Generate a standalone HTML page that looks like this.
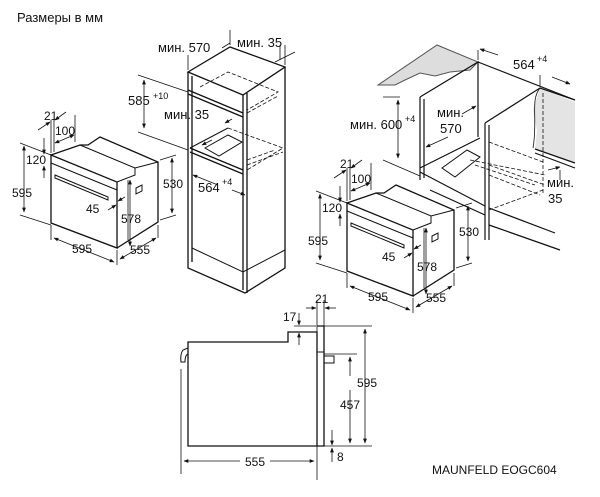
<!DOCTYPE html>
<html><head><meta charset="utf-8"><style>
html,body{margin:0;padding:0;background:#fff;}
svg{display:block;}
text{font-family:"Liberation Sans",sans-serif;fill:#111;}
</style></head><body>
<svg width="600" height="497" viewBox="0 0 600 497" xmlns="http://www.w3.org/2000/svg">
<defs>
<marker id="a" viewBox="0 0 10 10" refX="9" refY="5" markerWidth="6" markerHeight="6" orient="auto-start-reverse"><path d="M0,1 L10,5 L0,9 z" fill="#111"/></marker>
<g id="oven">
  <!-- body -->
  <path d="M51,155 L117,182 L117,248 L51,223 Z" fill="none" stroke="#111" stroke-width="1.3"/>
  <path d="M51,155 L80,145 L88,145 L100,137 L158,162 L158,222 L117,248" fill="none" stroke="#111" stroke-width="1.3"/>
  <path d="M80,145 L135,168 L158,162 M117,182 L135,175 L135,168" fill="none" stroke="#111" stroke-width="1"/>
  <path d="M51,163 L117,190" stroke="#111" stroke-width="1"/>
  <path d="M55,175 L108,197 L108,200 L55,178 Z" fill="none" stroke="#111" stroke-width="1"/>
  <path d="M128,180 L128,240" stroke="#111" stroke-width="0.8"/>
  <path d="M136,188 l6,-3 l0,6 l-6,3 z" fill="none" stroke="#111" stroke-width="1"/>
  <!-- dims -->
  <path d="M20,143 L51,155 M20,215 L51,225" stroke="#111" stroke-width="0.8"/>
  <line x1="24" y1="146" x2="24" y2="212" stroke="#111" stroke-width="0.8" marker-start="url(#a)" marker-end="url(#a)"/>
  <line x1="44" y1="138" x2="44" y2="154" stroke="#111" stroke-width="0.8" marker-end="url(#a)"/>
  <line x1="44" y1="178" x2="44" y2="166" stroke="#111" stroke-width="0.8" marker-end="url(#a)"/>
  <path d="M51,120 L51,153 M54,120 L54,152 M75,115 L75,142" stroke="#111" stroke-width="0.8"/>
  <line x1="38" y1="130" x2="50" y2="122" stroke="#111" stroke-width="0.8" marker-end="url(#a)"/>
  <line x1="66" y1="112" x2="55" y2="120" stroke="#111" stroke-width="0.8" marker-end="url(#a)"/>
  <line x1="55" y1="143" x2="74" y2="135" stroke="#111" stroke-width="0.8" marker-start="url(#a)" marker-end="url(#a)"/>
  <path d="M51,225 L51,240 M117,250 L117,265 M158,225 L158,238" stroke="#111" stroke-width="0.8"/>
  <line x1="54" y1="238" x2="114" y2="262" stroke="#111" stroke-width="0.8" marker-start="url(#a)" marker-end="url(#a)"/>
  <line x1="120" y1="259" x2="156" y2="238" stroke="#111" stroke-width="0.8" marker-start="url(#a)" marker-end="url(#a)"/>
  <path d="M160,160 L176,155 M160,220 L176,215" stroke="#111" stroke-width="0.8"/>
  <line x1="172" y1="158" x2="172" y2="213" stroke="#111" stroke-width="0.8" marker-start="url(#a)" marker-end="url(#a)"/>
  <line x1="130" y1="180" x2="130" y2="246" stroke="#111" stroke-width="0.8" marker-start="url(#a)" marker-end="url(#a)"/>
  <line x1="108" y1="210" x2="116" y2="205" stroke="#111" stroke-width="0.8" marker-end="url(#a)"/>
  <line x1="125" y1="197" x2="118" y2="201" stroke="#111" stroke-width="0.8" marker-end="url(#a)"/>
  <g font-size="12">
  <text x="44" y="120">21</text><text x="55" y="135">100</text><text x="26" y="164">120</text>
  <text x="12" y="197">595</text><text x="86" y="213">45</text><text x="121" y="223">578</text>
  <text x="163" y="188">530</text><text x="72" y="253">595</text><text x="130" y="254">555</text>
  </g>
</g>
</defs>

<text x="17" y="22" font-size="13">Размеры в мм</text>

<use href="#oven"/>
<use href="#oven" transform="translate(296,48)"/>

<!-- tall cabinet -->
<g fill="none" stroke="#111" stroke-width="1.3">
  <path d="M188,72 L230,47 L285,67 L243,95 Z"/>
  <path d="M188,72 L188,268 L245,293 L285,268 L285,67"/>
  <path d="M243,95 L243,290 M247,93 L247,293 M192,76 L192,262"/>
  <path d="M188,90 L243,113 M188,94 L243,117"/>
  <path d="M190,148 L243,170 M190,152 L243,174"/>
  <path d="M190,148 L228,128" stroke-width="1"/>
  <path d="M205,148 L228,135 L242,142 L219,156 Z" stroke-width="1"/>
  <path d="M192,248 L243,272 L285,250" stroke-width="1"/>
</g>
<g fill="none" stroke="#111" stroke-width="0.8" stroke-dasharray="4,2">
  <path d="M200,87 L228,72 L278,92 L247,110 M247,113 L278,96"/>
  <path d="M228,128 L283,148 L247,170 M247,165 L283,152 M247,160 L275,150"/>
</g>
<g stroke="#111" stroke-width="0.8" fill="none">
  <path d="M188,70 L188,55 M230,45 L230,30 M285,65 L285,45 M280,60 L280,45 M138,75 L188,92 M138,132 L188,150"/>
  <line x1="144" y1="80" x2="144" y2="128" marker-start="url(#a)" marker-end="url(#a)"/>
  <line x1="222" y1="48" x2="230" y2="43"/>
  <line x1="275" y1="62" x2="295" y2="52"/>
  <line x1="212" y1="140" x2="202" y2="145" marker-end="url(#a)"/>
  <line x1="225" y1="123" x2="232" y2="119" marker-start="url(#a)"/>
  <line x1="193" y1="175" x2="218" y2="185" marker-start="url(#a)"/>
  <line x1="232" y1="190" x2="245" y2="195" marker-end="url(#a)"/>
</g>
<g font-size="13">
  <text x="158" y="52">мин. 570</text><text x="237" y="47">мин. 35</text>
  <text x="128" y="105">585</text><text x="153" y="99" font-size="9">+10</text>
  <text x="164" y="119">мин. 35</text>
  <text x="198" y="192">564</text><text x="222" y="185" font-size="9">+4</text>
</g>

<!-- right built-in scene -->
<path d="M378,85 L437,45 L478,62 L470,70 L450,72 L435,76 L420,73 L405,80 L395,85 Z" fill="#ddd" stroke="#555" stroke-width="1"/>
<path d="M540,88 L575,102 L575,163 L535,149 L537,130 L533,110 Z" fill="#e4e4e4"/>
<g fill="none" stroke="#111" stroke-width="1.2">
  <path d="M420,97 L478,62 L478,137 M420,97 L420,180 M424,99 L424,178"/>
  <path d="M420,168 L480,138 M420,172 L485,206"/>
  <path d="M442,168 L467,150 L480,157 L455,177 Z" stroke-width="1"/>
  <path d="M485,123 L540,88 L575,100 M485,123 L485,240 M489,125 L489,240"/>
  <path d="M478,62 L575,100"/>
  <path d="M535,149 L575,163 M535,153 L575,168"/>
  <path d="M540,88 C530,100 538,120 533,148" stroke-width="0.8"/>
  <path d="M489,208 L555,233 M489,225 L560,250 M430,190 L485,215"/>
</g>
<g fill="none" stroke="#111" stroke-width="0.8" stroke-dasharray="4,2">
  <path d="M543,93 L543,195 M489,142 L543,162 M489,165 L545,185 M489,175 L540,195 M489,210 L543,190 M470,160 L545,175 M475,165 L535,185"/>
</g>
<g stroke="#111" stroke-width="0.8" fill="none">
  <path d="M383,97 L400,97 M383,160 L420,176 M478,50 L478,60 M540,75 L540,86 M560,170 L560,180"/>
  <line x1="398" y1="100" x2="398" y2="158" marker-start="url(#a)" marker-end="url(#a)"/>
  <line x1="498" y1="55" x2="480" y2="49" marker-end="url(#a)"/>
  <line x1="552" y1="77" x2="570" y2="84" marker-end="url(#a)"/>
  <line x1="448" y1="137" x2="426" y2="147" marker-end="url(#a)"/>
  <line x1="462" y1="114" x2="476" y2="106" marker-end="url(#a)"/>
  <line x1="548" y1="170" x2="560" y2="167" marker-end="url(#a)"/>
</g>
<g font-size="13">
  <text x="513" y="69">564</text><text x="537" y="62" font-size="9">+4</text>
  <text x="350" y="129">мин. 600</text><text x="405" y="122" font-size="9">+4</text>
  <text x="437" y="117">мин.</text><text x="440" y="133">570</text>
  <text x="547" y="187">мин.</text><text x="548" y="203">35</text>
</g>

<!-- side view -->
<g fill="none" stroke="#111" stroke-width="1.3">
  <path d="M188,342 L288,342 L288,332 L317,332 L317,446 L188,446 Z"/>
  <path d="M317,326 L324,326 L324,446 L317,446"/>
  <path d="M188,348 L183,350 Q180,354 181,362 L185,362 Q185,355 188,354" stroke-width="1"/>
  <path d="M324,356 L334,356 L334,363 L324,363" stroke-width="1"/>
  <path d="M317,352 L324,352" stroke-width="1"/>
</g>
<g stroke="#111" stroke-width="0.8" fill="none">
  <path d="M181,369 L181,474 M317,300 L317,480 M324,300 L324,326 M324,326 L372,326 M324,446 L372,446 M324,354 L357,354 M294,326 L316,326"/>
  <line x1="365" y1="329" x2="365" y2="443" marker-start="url(#a)" marker-end="url(#a)"/>
  <line x1="350" y1="357" x2="350" y2="443" marker-start="url(#a)" marker-end="url(#a)"/>
  <line x1="184" y1="461" x2="314" y2="461" marker-start="url(#a)" marker-end="url(#a)"/>
  <line x1="306" y1="308" x2="316" y2="308" marker-end="url(#a)"/>
  <line x1="336" y1="308" x2="325" y2="308" marker-end="url(#a)"/>
  <line x1="299" y1="313" x2="299" y2="325" marker-end="url(#a)"/>
  <line x1="299" y1="345" x2="299" y2="333" marker-end="url(#a)"/>
  <line x1="332" y1="430" x2="332" y2="445" marker-end="url(#a)"/>
  <line x1="332" y1="462" x2="332" y2="448" marker-end="url(#a)"/>
</g>
<rect x="240" y="455" width="30" height="12" fill="#fff"/>
<rect x="340" y="376" width="22" height="14" fill="#fff"/>
<g font-size="12">
  <text x="315" y="303">21</text><text x="283" y="321">17</text>
  <text x="357" y="387">595</text><text x="340" y="409">457</text>
  <text x="245" y="466">555</text><text x="337" y="461">8</text>
</g>

<text x="432" y="474" font-size="12">MAUNFELD EOGC604</text>
</svg>
</body></html>
